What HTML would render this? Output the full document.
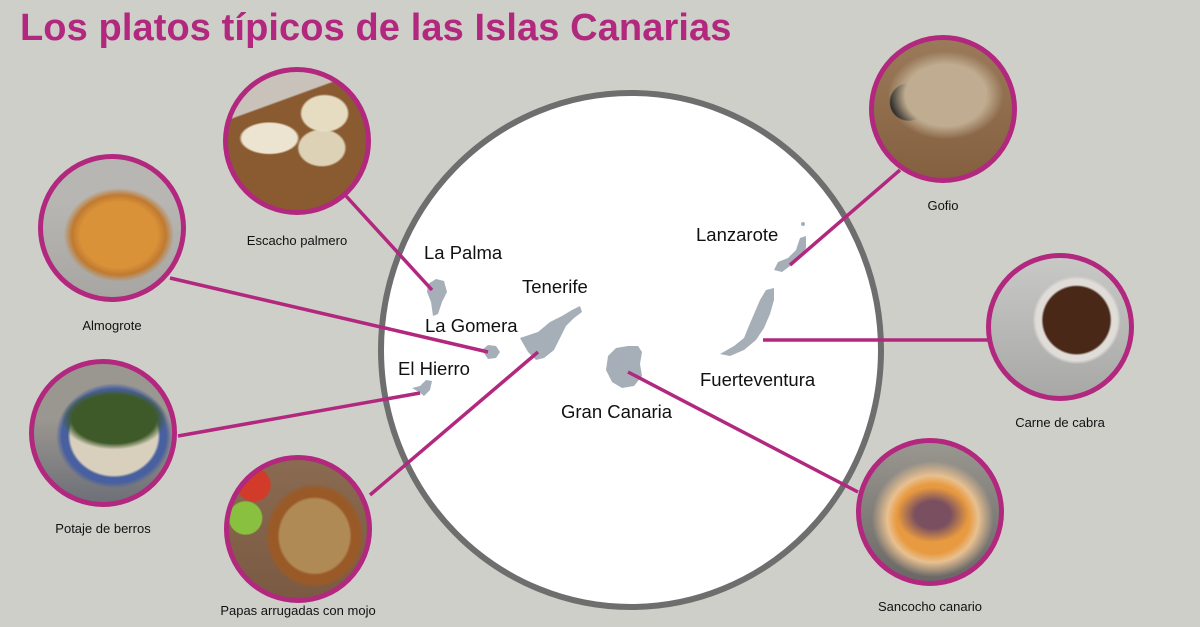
<!DOCTYPE html>
<html><head><meta charset="utf-8"><style>
body{margin:0;width:1200px;height:627px;background:#cfcfca;overflow:hidden;position:relative;font-family:"Liberation Sans",sans-serif}
h1{position:absolute;left:20px;top:7px;margin:0;font-size:38px;font-weight:bold;color:#b1287e;letter-spacing:0.1px}
.c{position:absolute;border:5px solid #b1287e;border-radius:50%;box-sizing:border-box;width:148px;height:148px;overflow:hidden}
.l{position:absolute;font-size:13px;color:#111;transform:translateX(-50%);white-space:nowrap}
.t{font-size:18.5px;fill:#111;font-family:"Liberation Sans",sans-serif}
</style></head><body>
<h1>Los platos típicos de las Islas Canarias</h1>
<svg width="1200" height="627" style="position:absolute;left:0;top:0">
<ellipse cx="631" cy="350" rx="250" ry="257" fill="#fff" stroke="#6e6e6e" stroke-width="6"/>
<g fill="#a6afb8">
<path d="M428 284 L436 279 L444 281 L447 292 L442 302 L438 314 L433 316 L431 302 L427 292 Z"/>
<path d="M482 350 L488 345 L496 346 L500 352 L496 358 L488 359 Z"/>
<path d="M412 388 L420 386 L426 380 L432 381 L430 390 L424 396 L419 392 Z"/>
<path d="M520 338 L538 332 L550 322 L562 316 L572 310 L580 306 L582 312 L574 318 L566 326 L560 338 L554 350 L544 358 L536 360 L528 352 Z"/>
<path d="M608 356 L616 348 L628 346 L638 346 L642 352 L640 364 L642 376 L634 386 L622 388 L612 382 L606 370 Z"/>
<path d="M774 270 L778 262 L788 258 L796 250 L800 238 L806 236 L806 248 L800 258 L790 266 L782 272 Z"/>
<circle cx="803" cy="224" r="2"/>
<path d="M720 354 L734 346 L744 338 L748 328 L754 314 L760 300 L766 290 L774 288 L774 300 L770 314 L764 328 L756 340 L744 350 L730 356 Z"/>
</g>
<g stroke="#b1287e" stroke-width="3.5" fill="none">
<line x1="346" y1="196" x2="432" y2="290"/>
<line x1="170" y1="278" x2="488" y2="352"/>
<line x1="178" y1="436" x2="420" y2="393"/>
<line x1="370" y1="495" x2="538" y2="352"/>
<line x1="900" y1="170" x2="790" y2="265"/>
<line x1="763" y1="340" x2="990" y2="340"/>
<line x1="628" y1="372" x2="858" y2="492"/>
</g>
<text class="t" x="424" y="259">La Palma</text>
<text class="t" x="522" y="293">Tenerife</text>
<text class="t" x="425" y="332">La Gomera</text>
<text class="t" x="398" y="375">El Hierro</text>
<text class="t" x="696" y="241">Lanzarote</text>
<text class="t" x="700" y="386">Fuerteventura</text>
<text class="t" x="561" y="418">Gran Canaria</text>
</svg>
<div class="c" style="left:223px;top:67px;background:radial-gradient(ellipse 18% 14% at 70% 30%,#e6dcc2 0 90%,transparent 100%),radial-gradient(ellipse 18% 14% at 68% 55%,#ddd2b6 0 90%,transparent 100%),radial-gradient(ellipse 22% 12% at 30% 48%,#ece4d0 0 90%,transparent 100%),linear-gradient(160deg,#c8c2ba 0 25%,#8a5a30 26% 100%)"></div>
<div class="c" style="left:38px;top:154px;background:radial-gradient(ellipse 40% 34% at 55% 55%,#d99238 0 70%,#c07a30 85%,transparent 100%),linear-gradient(180deg,#b8b6b2 0 30%,#a8a6a2 100%)"></div>
<div class="c" style="left:29px;top:359px;background:radial-gradient(ellipse 38% 22% at 58% 40%,#3e5a28 0 80%,transparent 100%),radial-gradient(ellipse 42% 38% at 58% 52%,#d8d0bc 0 75%,#4860a0 80% 90%,transparent 100%),linear-gradient(180deg,#9a9690 0 40%,#6e7078 100%)"></div>
<div class="c" style="left:224px;top:455px;background:radial-gradient(circle at 18% 18%,#d23a2a 0 10%,transparent 11%),radial-gradient(circle at 12% 42%,#8ac040 0 11%,transparent 12%),radial-gradient(ellipse 36% 38% at 62% 55%,#b08a55 0 70%,#9a5a28 75% 90%,transparent 100%),linear-gradient(180deg,#8a6a50,#7a5a42)"></div>
<div class="c" style="left:869px;top:35px;background:radial-gradient(ellipse 42% 32% at 52% 40%,#c0ac90 0 70%,transparent 100%),radial-gradient(circle at 25% 45%,#222 0 14%,transparent 15%),linear-gradient(180deg,#9a7a5a,#84603f)"></div>
<div class="c" style="left:986px;top:253px;background:radial-gradient(ellipse 32% 32% at 62% 45%,#4a2818 0 75%,#e0ddd8 80% 92%,transparent 100%),linear-gradient(180deg,#c8c8c6,#a8a8a6)"></div>
<div class="c" style="left:856px;top:438px;background:radial-gradient(ellipse 26% 20% at 52% 52%,#7a5060 0 50%,transparent 100%),radial-gradient(ellipse 44% 42% at 52% 55%,#e89a40 0 60%,#e8c090 75%,transparent 100%),linear-gradient(180deg,#9a9690,#6a6866)"></div>
<div class="l" style="left:297px;top:233px">Escacho palmero</div>
<div class="l" style="left:112px;top:318px">Almogrote</div>
<div class="l" style="left:103px;top:521px">Potaje de berros</div>
<div class="l" style="left:298px;top:603px">Papas arrugadas con mojo</div>
<div class="l" style="left:943px;top:198px">Gofio</div>
<div class="l" style="left:1060px;top:415px">Carne de cabra</div>
<div class="l" style="left:930px;top:599px">Sancocho canario</div>
</body></html>
